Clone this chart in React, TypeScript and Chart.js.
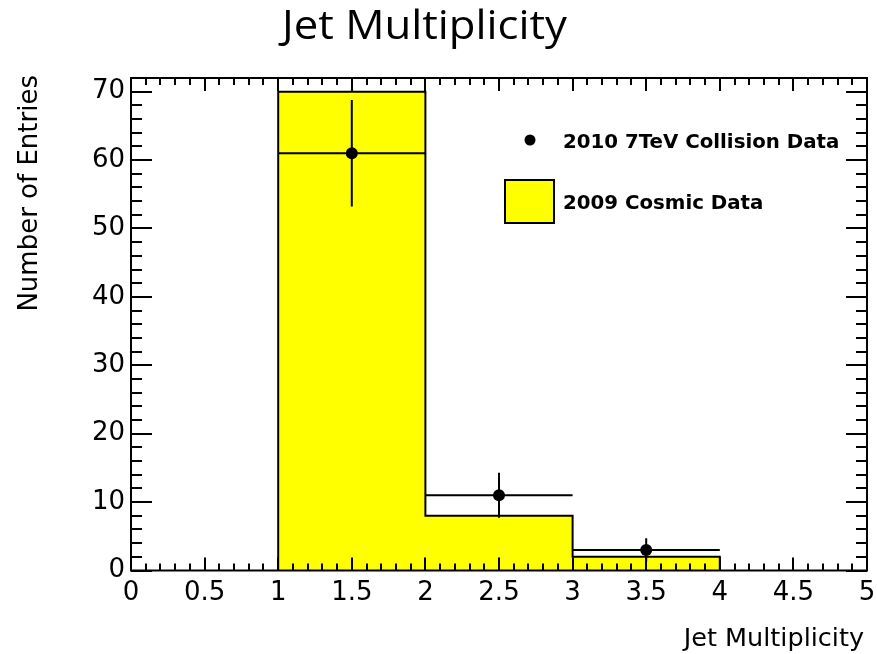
import React, { useEffect, useRef } from "react";
import { Chart, registerables } from "chart.js";

Chart.register(...registerables);

// ---- data ----
const binEdges = [1, 2, 3, 4];
const cosmicCounts = [70, 8, 2];
const collisionX = [1.5, 2.5, 3.5];
const collisionY = [61, 11, 3];
const collisionYErr = [7.8, 3.3, 1.7];
const collisionXErr = [0.5, 0.5, 0.5];
const xTickValues = [0, 0.5, 1, 1.5, 2, 2.5, 3, 3.5, 4, 4.5, 5];
const xTickLabels = ["0", "0.5", "1", "1.5", "2", "2.5", "3", "3.5", "4", "4.5", "5"];
const yTickValues = [0, 10, 20, 30, 40, 50, 60, 70];
const yTickLabels = ["0", "10", "20", "30", "40", "50", "60", "70"];
const chartTitle = "Jet Multiplicity";
const xTitle = "Jet Multiplicity";
const yTitle = "Number of Entries";
const collisionLabel = "2010 7TeV Collision Data";
const cosmicLabel = "2009 Cosmic Data";

const YELLOW = "#ffff00";

const rootPlugin = {
  id: "rootStyle",
  beforeDatasetDraw(chart: any, args: any) {
    const ds = chart.data.datasets[args.index];
    if (ds.label !== collisionLabel) return;
    const { ctx, scales } = chart;
    const x = scales.x, y = scales.y;
    ctx.save();
    ctx.strokeStyle = "#000";
    ctx.lineWidth = 2;
    collisionX.forEach((cx, i) => {
      const px = x.getPixelForValue(cx);
      const py = y.getPixelForValue(collisionY[i]);
      ctx.beginPath();
      ctx.moveTo(x.getPixelForValue(cx - collisionXErr[i]), py);
      ctx.lineTo(x.getPixelForValue(cx + collisionXErr[i]), py);
      ctx.moveTo(px, y.getPixelForValue(collisionY[i] + collisionYErr[i]));
      ctx.lineTo(px, y.getPixelForValue(collisionY[i] - collisionYErr[i]));
      ctx.stroke();
    });
    ctx.restore();
  },
  afterDatasetsDraw(chart: any) {
    const { ctx, chartArea: a, scales } = chart;
    const x = scales.x, y = scales.y;
    ctx.save();
    ctx.strokeStyle = "#000";
    ctx.lineWidth = 2;
    ctx.beginPath();
    // x ticks (bottom and top), minor every 0.1
    for (let i = 0; i <= 50; i++) {
      const px = Math.round(x.getPixelForValue(i * 0.1));
      const len = i % 5 === 0 ? 13 : 7;
      ctx.moveTo(px, a.bottom);
      ctx.lineTo(px, a.bottom - len);
      ctx.moveTo(px, a.top);
      ctx.lineTo(px, a.top + len);
    }
    // y ticks (left and right), minor every 2
    for (let v = 0; v <= 72; v += 2) {
      const py = Math.round(y.getPixelForValue(v));
      const len = v % 10 === 0 ? 21 : 11;
      ctx.moveTo(a.left, py);
      ctx.lineTo(a.left + len, py);
      ctx.moveTo(a.right, py);
      ctx.lineTo(a.right - len, py);
    }
    ctx.stroke();
    ctx.strokeRect(a.left, a.top, a.right - a.left, a.bottom - a.top);
    ctx.restore();
  },
  afterDraw(chart: any) {
    const { ctx } = chart;
    ctx.save();
    ctx.fillStyle = "#000";
    // main title
    ctx.save();
    ctx.font = '40px "Open Sans"';
    ctx.textAlign = "center";
    ctx.textBaseline = "alphabetic";
    const tw = ctx.measureText(chartTitle).width;
    ctx.translate(424.5, 39);
    ctx.scale(Math.min(1.15, 285 / tw), 1);
    ctx.fillText(chartTitle, 0, 0);
    ctx.restore();
    // x title
    ctx.font = '25.5px "DejaVu Sans"';
    ctx.textAlign = "right";
    ctx.fillText(xTitle, 864, 646);
    // y title
    ctx.save();
    ctx.font = '26px "DejaVu Sans"';
    ctx.textAlign = "right";
    ctx.translate(37, 75);
    ctx.rotate(-Math.PI / 2);
    ctx.fillText(yTitle, 0, 0);
    ctx.restore();
    // legend
    ctx.font = 'bold 19.8px "DejaVu Sans"';
    ctx.textAlign = "left";
    ctx.beginPath();
    ctx.arc(530, 140, 5.5, 0, Math.PI * 2);
    ctx.fill();
    ctx.fillText(chart.data.datasets[0].label, 563, 148);
    ctx.fillStyle = YELLOW;
    ctx.fillRect(505, 180, 49, 43);
    ctx.strokeStyle = "#000";
    ctx.lineWidth = 2;
    ctx.strokeRect(505, 180, 49, 43);
    ctx.fillStyle = "#000";
    ctx.fillText(chart.data.datasets[1].label, 563, 209);
    ctx.restore();
  },
};

export default function App() {
  const ref = useRef<HTMLCanvasElement>(null);
  useEffect(() => {
    document.body.style.margin = "0";
    const histPoints: { x: number; y: number }[] = [{ x: binEdges[0], y: 0 }];
    cosmicCounts.forEach((c, i) => {
      histPoints.push({ x: binEdges[i], y: c });
      histPoints.push({ x: binEdges[i + 1], y: c });
    });
    histPoints.push({ x: binEdges[binEdges.length - 1], y: 0 });
    const collisionPoints = collisionX.map((cx, i) => ({ x: cx, y: collisionY[i] }));

    const chart = new Chart(ref.current!, {
      type: "scatter",
      data: {
        datasets: [
          {
            label: collisionLabel,
            data: collisionPoints,
            pointRadius: 6,
            pointBackgroundColor: "#000",
            pointBorderColor: "#000",
            pointBorderWidth: 0,
            showLine: false,
            order: 0,
          },
          {
            label: cosmicLabel,
            data: histPoints,
            showLine: true,
            fill: "origin",
            backgroundColor: YELLOW,
            borderColor: "#000",
            borderWidth: 2,
            pointRadius: 0,
            tension: 0,
            order: 1,
          } as any,
        ],
      },
      options: {
        animation: false,
        responsive: false,
        devicePixelRatio: 1,
        layout: { padding: { top: 78, right: 10, left: 0, bottom: 0 } },
        plugins: { legend: { display: false }, tooltip: { enabled: false }, title: { display: false } },
        scales: {
          x: {
            type: "linear",
            min: 0,
            max: 5,
            grid: { display: false, drawTicks: false },
            border: { display: false },
            afterBuildTicks: (s: any) => {
              s.ticks = xTickValues.map((v) => ({ value: v }));
            },
            afterFit: (s: any) => {
              s.height = 83.5;
              s.paddingLeft = 0;
              s.paddingRight = 0;
            },
            ticks: {
              autoSkip: false,
              maxRotation: 0,
              padding: 7,
              color: "#000",
              font: { family: "DejaVu Sans", size: 26 },
              callback: (v: any) => {
                const i = xTickValues.indexOf(Number(v));
                return i >= 0 ? xTickLabels[i] : "";
              },
            },
          },
          y: {
            type: "linear",
            min: 0,
            max: 72,
            grid: { display: false, drawTicks: false },
            border: { display: false },
            afterBuildTicks: (s: any) => {
              s.ticks = yTickValues.map((v) => ({ value: v }));
            },
            afterFit: (s: any) => {
              s.width = 131;
              s.paddingTop = 0;
              s.paddingBottom = 0;
            },
            ticks: {
              autoSkip: false,
              padding: 6,
              color: "#000",
              font: { family: "DejaVu Sans", size: 26 },
              callback: (v: any) => {
                const i = yTickValues.indexOf(Number(v));
                return i >= 0 ? yTickLabels[i] : "";
              },
            },
          },
        },
      },
      plugins: [rootPlugin],
    } as any);
    return () => chart.destroy();
  }, []);
  return <canvas ref={ref} width={877} height={654} style={{ display: "block" }} />;
}
